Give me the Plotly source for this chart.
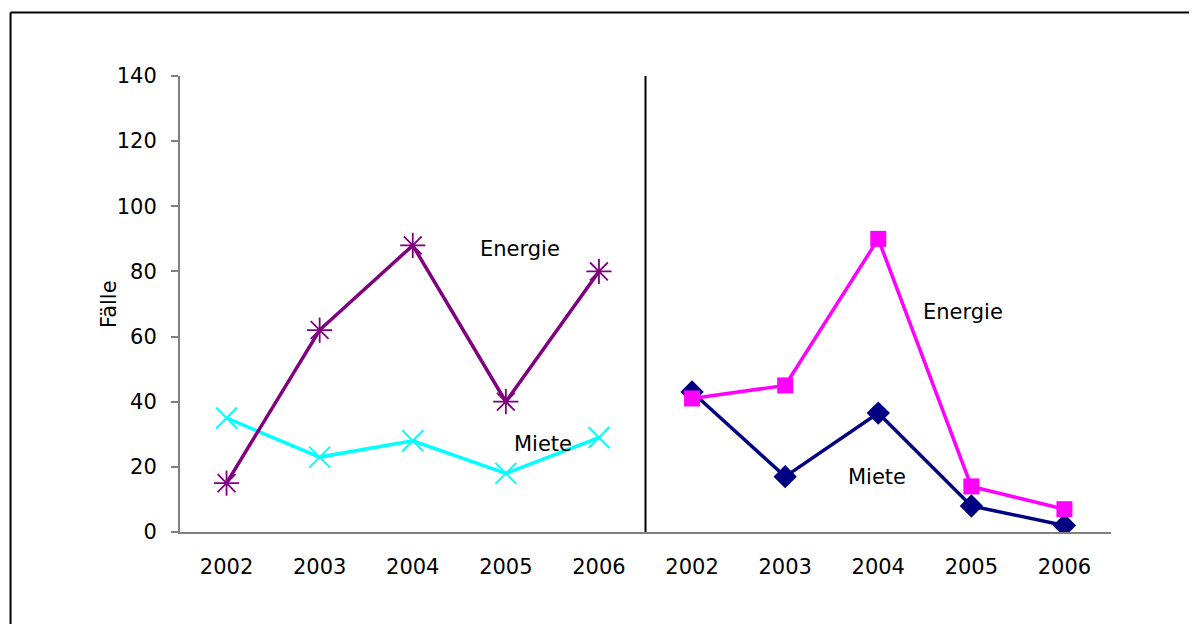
import plotly.graph_objects as go

years = ["2002", "2003", "2004", "2005", "2006"]
tick_labels = years + years
darlehen_energie = [15, 62, 88, 40, 80]
darlehen_miete = [35, 23, 28, 18, 29]
beihilfen_energie = [41, 45, 90, 14, 7]
beihilfen_miete = [43, 17, 36.5, 8, 2]

x_left = list(range(len(years)))
x_right = [i + len(years) for i in range(len(years))]

FONT = "DejaVu Sans"
fig = go.Figure()

fig.add_trace(go.Scatter(
    x=x_left, y=darlehen_miete, mode="lines+markers",
    line=dict(color="#00FFFF", width=3.5),
    marker=dict(symbol="x-thin-open", size=21, color="#00FFFF",
                line=dict(color="#00FFFF", width=2)),
    name="Darlehen Miete"))
fig.add_trace(go.Scatter(
    x=x_left, y=darlehen_energie, mode="lines+markers",
    line=dict(color="#800080", width=3.5),
    marker=dict(symbol="asterisk-open", size=21, color="#800080",
                line=dict(color="#800080", width=1.8)),
    name="Darlehen Energie"))
fig.add_trace(go.Scatter(
    x=x_right, y=beihilfen_miete, mode="lines+markers",
    line=dict(color="#000080", width=3.5),
    marker=dict(symbol="diamond", size=18, color="#000080"),
    name="Beihilfen Miete"))
fig.add_trace(go.Scatter(
    x=x_right, y=beihilfen_energie, mode="lines+markers",
    line=dict(color="#FF00FF", width=3.5),
    marker=dict(symbol="square", size=16, color="#FF00FF"),
    name="Beihilfen Energie"))

fig.add_shape(type="line", xref="x", yref="y", x0=4.5, x1=4.5, y0=0, y1=140,
              line=dict(color="black", width=2))

# outer frame (partially out of view)
fig.add_shape(type="line", xref="paper", yref="paper", x0=-0.182, x1=-0.182,
              y0=-0.5, y1=1.1393, line=dict(color="black", width=2))
fig.add_shape(type="line", xref="paper", yref="paper", x0=-0.182, x1=1.2,
              y0=1.1393, y1=1.1393, line=dict(color="black", width=2))

txt = dict(family=FONT, size=21, color="black")
annos = [
    ("Darlehen", 2.86, 141.5),
    ("Beihilfen", 6.62, 141.5),
    ("Energie", 3.15, 86.9),
    ("Miete", 3.40, 27),
    ("Energie", 7.91, 67.5),
    ("Miete", 6.99, 16.9),
]
for t, ax, ay in annos:
    fig.add_annotation(text=t, x=ax, y=ay, xref="x", yref="y", showarrow=False,
                       font=txt)
fig.add_annotation(text="Fälle", x=-0.0913, y=0.5, xref="paper", yref="paper",
                   textangle=-90, showarrow=False, font=txt)

fig.update_layout(
    width=1197, height=624,
    margin=dict(l=172, r=94, t=68, b=100),
    paper_bgcolor="white", plot_bgcolor="white",
    showlegend=False,
    font=txt,
    xaxis=dict(range=[-0.5, 9.5], tickmode="array", tickvals=list(range(10)),
               ticktext=tick_labels, showgrid=False, zeroline=False,
               showline=True, linecolor="#808080", linewidth=2, ticks="",
               ticklabelstandoff=15, tickfont=txt),
    yaxis=dict(range=[0, 140], tickmode="array", tickvals=list(range(0, 141, 20)),
               showgrid=False, zeroline=False, showline=True,
               linecolor="#808080", linewidth=2, ticks="outside", ticklen=7,
               tickcolor="#808080", tickwidth=2, ticklabelstandoff=10,
               tickfont=txt),
)

fig.write_html("out.html")
